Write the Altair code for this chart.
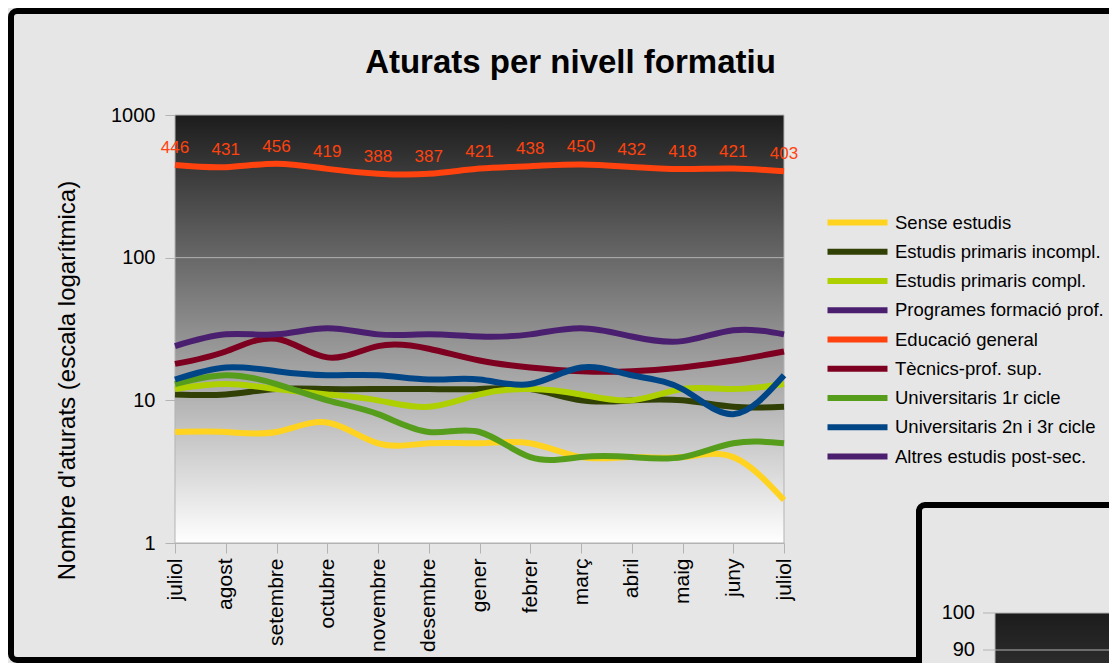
import json
import altair as alt
import pandas as pd

# ---------------- data ----------------
months = ["juliol", "agost", "setembre", "octubre", "novembre", "desembre",
          "gener", "febrer", "març", "abril", "maig", "juny", "juliol"]

series_names = ["Sense estudis", "Estudis primaris incompl.", "Estudis primaris compl.",
                "Programes formació prof.", "Educació general", "Tècnics-prof. sup.",
                "Universitaris 1r cicle", "Universitaris 2n i 3r cicle", "Altres estudis post-sec."]
series_colors = ["#ffd320", "#314004", "#aecf00", "#4b1f6f", "#ff420e",
                 "#7e0021", "#579d1c", "#004586", "#4b1f6f"]

sense_estudis = [6, 6, 6, 7, 5, 5, 5, 5, 4, 4, 4, 4, 2]
primaris_incompl = [11, 11, 12, 12, 12, 12, 12, 12, 10, 10, 10, 9, 9]
primaris_compl = [12, 13, 12, 11, 10, 9, 11, 12, 11, 10, 12, 12, 13]
programes_formacio = []  # no line visible in the chart
educacio_general = [446, 431, 456, 419, 388, 387, 421, 438, 450, 432, 418, 421, 403]
tecnics_prof_sup = [18, 22, 27, 20, 24, 23, 19, 17, 16, 16, 17, 19, 22]
universitaris_1r = [13, 15, 13, 10, 8, 6, 6, 4, 4, 4, 4, 5, 5]
universitaris_2n3r = [14, 17, 16, 15, 15, 14, 14, 13, 17, 15, 12, 8, 15]
altres_post_sec = [24, 29, 29, 32, 29, 29, 28, 29, 32, 28, 26, 31, 29]

y_ticks = [1, 10, 100, 1000]
grid_values = [10, 100]
inset_labels = ["100", "90"]

series_values = [sense_estudis, primaris_incompl, primaris_compl, programes_formacio,
                 educacio_general, tecnics_prof_sup, universitaris_1r,
                 universitaris_2n3r, altres_post_sec]

rows = []
for name, vals in zip(series_names, series_values):
    for i, v in enumerate(vals):
        rows.append({"idx": i, "mes": months[i], "serie": name, "valor": v})
df = pd.DataFrame(rows)
df_labels = pd.DataFrame({"idx": list(range(len(educacio_general))),
                          "valor": educacio_general})
df_grid = pd.DataFrame({"v": grid_values})
one = pd.DataFrame({"k": [0]})

# ---------------- layout ----------------
W, H = 609, 428
FONT = "Liberation Sans"
GRID = "#b3b3b3"

xscale = alt.Scale(domain=[0, len(months) - 1], nice=False, zero=False)
yscale = alt.Scale(type="log", domain=[1, 1000], nice=False)

xaxis = alt.Axis(values=list(range(len(months))),
                 labelExpr=json.dumps(months, ensure_ascii=False) + "[datum.value]",
                 labelAngle=270, labelAlign="right", labelBaseline="middle",
                 labelFontSize=21, labelColor="black", labelFont=FONT,
                 labelFlush=False, labelOverlap=False, labelPadding=5,
                 tickColor=GRID, tickSize=10, domainColor=GRID, grid=False, title=None)
yaxis = alt.Axis(values=y_ticks, format="d", labelFontSize=20, labelColor="black",
                 labelFont=FONT, labelFlush=False, labelPadding=10,
                 tickColor=GRID, tickSize=10, domainColor=GRID, grid=False,
                 title="Nombre d'aturats (escala logarítmica)", titleFont=FONT,
                 titleFontSize=24, titleFontWeight="normal", titleColor="black",
                 titlePadding=31, titleY=265)

plot_gradient = alt.LinearGradient(gradient="linear",
                                   stops=[alt.GradientStop(color="#1c1c1c", offset=0),
                                          alt.GradientStop(color="#ffffff", offset=1)],
                                   x1=0, x2=0, y1=0, y2=1)

bg = alt.Chart(one).mark_rect(fill=plot_gradient, stroke=GRID, strokeWidth=1).encode(
    x=alt.X(datum=0, type="quantitative", scale=xscale, axis=xaxis),
    x2=alt.X2(datum=len(months) - 1),
    y=alt.Y(datum=1, type="quantitative", scale=yscale, axis=yaxis),
    y2=alt.Y2(datum=1000),
)

grid = alt.Chart(df_grid).mark_rule(color=GRID, strokeWidth=1).encode(
    y=alt.Y("v:Q", scale=yscale, axis=yaxis)
)

lines = alt.Chart(df).mark_line(strokeWidth=6, interpolate="natural").encode(
    x=alt.X("idx:Q", scale=xscale, axis=xaxis),
    y=alt.Y("valor:Q", scale=yscale, axis=yaxis),
    color=alt.Color("serie:N",
                    scale=alt.Scale(domain=series_names, range=series_colors),
                    legend=alt.Legend(orient="none", legendX=672, legendY=97, title=None,
                                      labelFontSize=18.5, labelColor="black", labelFont=FONT,
                                      symbolType="M-4,0H4", symbolStrokeWidth=6,
                                      symbolSize=225, labelOffset=27, rowPadding=4.25,
                                      padding=0, labelLimit=400)),
    order=alt.Order("idx:Q"),
)

labels = alt.Chart(df_labels).mark_text(color="#ff420e", fontSize=17, font=FONT,
                                        dy=-17, baseline="middle", align="center").encode(
    x=alt.X("idx:Q", scale=xscale, axis=xaxis),
    y=alt.Y("valor:Q", scale=yscale, axis=yaxis),
    text=alt.Text("valor:Q"),
)

# decorative frames (chart border and the neighbouring chart peeking in)
frame = alt.Chart(one).mark_rect(fill="transparent", stroke="black", strokeWidth=6,
                                 cornerRadius=6).encode(
    x=alt.value(-164), x2=alt.value(1000), y=alt.value(-104), y2=alt.value(545))

inset_frame = alt.Chart(one).mark_rect(fill="#e6e6e6", stroke="black", strokeWidth=6,
                                       cornerRadius=6).encode(
    x=alt.value(744), x2=alt.value(1000), y=alt.value(390), y2=alt.value(700))

inset_gradient = alt.LinearGradient(gradient="linear",
                                    stops=[alt.GradientStop(color="#1c1c1c", offset=0),
                                           alt.GradientStop(color="#3c3c3c", offset=1)],
                                    x1=0, x2=0, y1=0, y2=1)
inset_plot = alt.Chart(one).mark_rect(fill=inset_gradient).encode(
    x=alt.value(820), x2=alt.value(1000), y=alt.value(498), y2=alt.value(600))
inset_rule1 = alt.Chart(one).mark_rule(color=GRID).encode(
    x=alt.value(808), x2=alt.value(1000), y=alt.value(498))
inset_rule2 = alt.Chart(one).mark_rule(color=GRID).encode(
    x=alt.value(808), x2=alt.value(1000), y=alt.value(535))
inset_rule3 = alt.Chart(one).mark_rule(color=GRID).encode(
    x=alt.value(820), y=alt.value(498), y2=alt.value(600))
inset_t1 = alt.Chart(one).mark_text(fontSize=20, font=FONT, color="black", align="right",
                                    baseline="middle").encode(
    x=alt.value(800), y=alt.value(498), text=alt.value(inset_labels[0]))
inset_t2 = alt.Chart(one).mark_text(fontSize=20, font=FONT, color="black", align="right",
                                    baseline="middle").encode(
    x=alt.value(800), y=alt.value(535), text=alt.value(inset_labels[1]))

chart = alt.layer(bg, grid, lines, labels, frame, inset_frame, inset_plot,
                  inset_rule1, inset_rule2, inset_rule3, inset_t1, inset_t2).properties(
    width=W, height=H,
    padding={"left": 167, "top": 107, "right": 325, "bottom": 120},
    autosize=alt.AutoSizeParams(type="none"),
    title=alt.TitleParams("Aturats per nivell formatiu", font=FONT, fontSize=33,
                          fontWeight="bold", color="black", anchor="middle",
                          frame="group", dx=91, offset=-72),
).configure(background="#e6e6e6").configure_view(stroke=None)

chart.save("out.html", embed_options={"renderer": "svg", "actions": False})
